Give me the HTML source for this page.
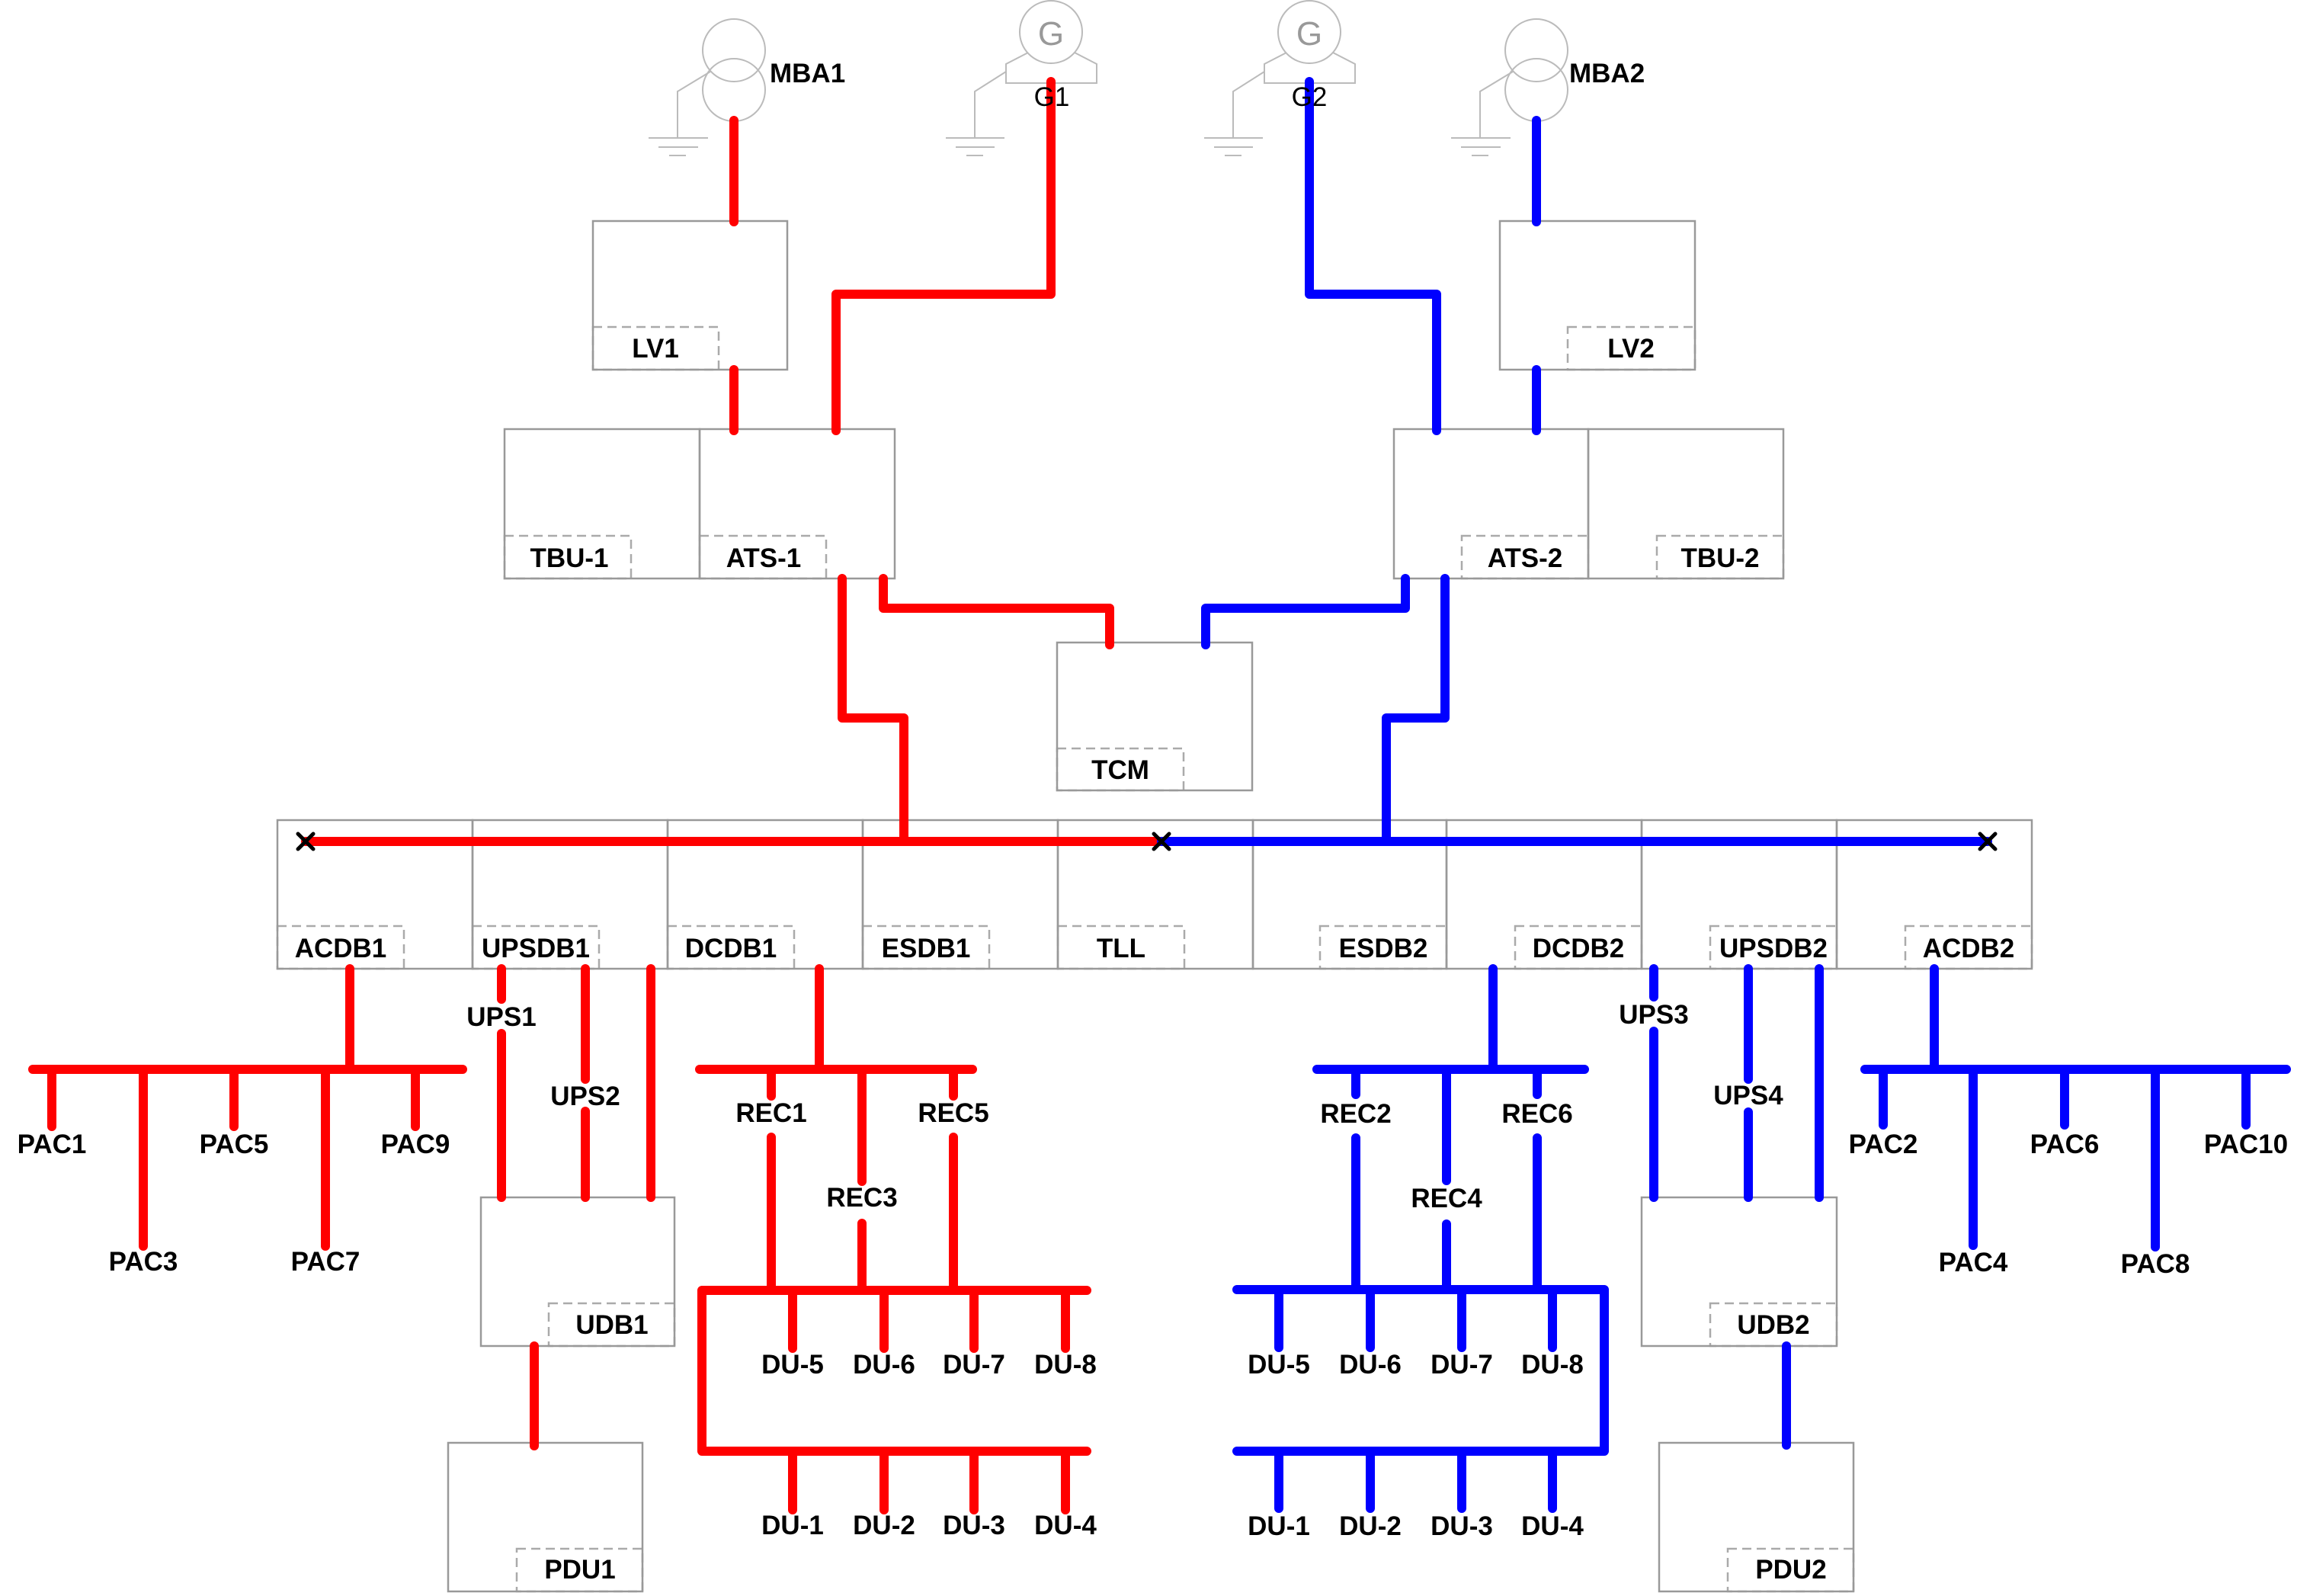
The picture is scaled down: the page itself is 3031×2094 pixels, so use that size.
<!DOCTYPE html>
<html><head><meta charset="utf-8"><style>
html,body{margin:0;padding:0;background:#fff}
svg{display:block}
text{font-family:"Liberation Sans",Arial,sans-serif}
.l{font-weight:bold;font-size:35px;fill:#000;text-anchor:middle}
</style></head><body>
<svg width="3031" height="2094" viewBox="0 0 3031 2094" xmlns="http://www.w3.org/2000/svg">
<rect width="3031" height="2094" fill="#fff"/>
<!-- gray symbols -->
<g fill="none" stroke="#bbb" stroke-width="2">
<circle cx="963" cy="66" r="41"/><circle cx="963" cy="118" r="41"/>
<path d="M932,94 L889,120 V181 M851,181 H929 M864,193 H916 M878,204 H900"/>
<circle cx="2016" cy="66" r="41"/><circle cx="2016" cy="118" r="41"/>
<path d="M1985,94 L1942,120 V181 M1904,181 H1982 M1917,193 H1969 M1931,204 H1953"/>
<circle cx="1379" cy="42" r="41"/>
<path d="M1349,69 L1320,84 V109 H1439 V84 L1410,69"/>
<path d="M1320,94 L1279,120 V181 M1241,181 H1318 M1254,193 H1305 M1268,204 H1290"/>
<circle cx="1718" cy="42" r="41"/>
<path d="M1688,69 L1659,84 V109 H1778 V84 L1749,69"/>
<path d="M1659,94 L1618,120 V181 M1580,181 H1657 M1593,193 H1644 M1607,204 H1629"/>
</g>
<text x="1379" y="59" font-size="44" fill="#999" text-anchor="middle">G</text>
<text x="1718" y="59" font-size="44" fill="#999" text-anchor="middle">G</text>
<!-- dashed labels -->
<g fill="none" stroke="#aaa" stroke-width="2.5" stroke-dasharray="12 7">
<rect x="778" y="429" width="165" height="56"/>
<rect x="2057" y="429" width="167" height="56"/>
<rect x="662" y="703" width="166" height="56"/>
<rect x="918" y="703" width="166" height="56"/>
<rect x="1918" y="703" width="166" height="56"/>
<rect x="2174" y="703" width="166" height="56"/>
<rect x="1387" y="982" width="166" height="55"/>
<rect x="364" y="1215" width="166" height="56"/>
<rect x="620" y="1215" width="166" height="56"/>
<rect x="876" y="1215" width="166" height="56"/>
<rect x="1132" y="1215" width="166" height="56"/>
<rect x="1388" y="1215" width="166" height="56"/>
<rect x="1732" y="1215" width="166" height="56"/>
<rect x="1988" y="1215" width="166" height="56"/>
<rect x="2244" y="1215" width="166" height="56"/>
<rect x="2500" y="1215" width="166" height="56"/>
<rect x="720" y="1710" width="165" height="56"/>
<rect x="2244" y="1710" width="166" height="56"/>
<rect x="678" y="2032" width="165" height="56"/>
<rect x="2267" y="2032" width="165" height="56"/>
</g>
<!-- boxes -->
<g fill="none" stroke="#999" stroke-width="2.5">
<rect x="778" y="290" width="255" height="195"/>
<rect x="1968" y="290" width="256" height="195"/>
<rect x="662" y="563" width="256" height="196"/>
<rect x="918" y="563" width="256" height="196"/>
<rect x="1829" y="563" width="255" height="196"/>
<rect x="2084" y="563" width="256" height="196"/>
<rect x="1387" y="843" width="256" height="194"/>
<rect x="364" y="1076" width="256" height="195"/>
<rect x="620" y="1076" width="256" height="195"/>
<rect x="876" y="1076" width="256" height="195"/>
<rect x="1132" y="1076" width="256" height="195"/>
<rect x="1388" y="1076" width="256" height="195"/>
<rect x="1644" y="1076" width="254" height="195"/>
<rect x="1898" y="1076" width="256" height="195"/>
<rect x="2154" y="1076" width="256" height="195"/>
<rect x="2410" y="1076" width="256" height="195"/>
<rect x="631" y="1571" width="254" height="195"/>
<rect x="2154" y="1571" width="256" height="195"/>
<rect x="588" y="1893" width="255" height="195"/>
<rect x="2177" y="1893" width="255" height="195"/>
</g>
<!-- red -->
<g fill="none" stroke="#ff0000" stroke-width="12" stroke-linecap="round" stroke-linejoin="round">
<path d="M963,158 V291 M963,485 V565"/>
<path d="M1379,107 V386 H1097 V565"/>
<path d="M1105,759 V942 H1186 V1104"/>
<path d="M1159,759 V798 H1456 V846"/>
<path d="M401,1104 H1524"/>
<path d="M459,1271 V1403 M43,1403 H607 M68,1403 V1478 M307,1403 V1478 M545,1403 V1478 M188,1403 V1635 M427,1403 V1635"/>
<path d="M658,1271 V1311 M658,1356 V1571 M768,1271 V1416 M768,1458 V1571 M854,1271 V1571"/>
<path d="M701,1766 V1897"/>
<path d="M1075,1271 V1403 M918,1403 H1276 M1012,1403 V1438 M1012,1492 V1693 M1251,1403 V1438 M1251,1492 V1693 M1131,1403 V1550 M1131,1605 V1693"/>
<path d="M1426,1693 H921 V1904 H1426"/>
<path d="M1040,1693 V1769 M1160,1693 V1769 M1278,1693 V1769 M1398,1693 V1769 M1040,1904 V1981 M1160,1904 V1981 M1278,1904 V1981 M1398,1904 V1981"/>
</g>
<!-- blue -->
<g fill="none" stroke="#0000ff" stroke-width="12" stroke-linecap="round" stroke-linejoin="round">
<path d="M1718,107 V386 H1885 V565"/>
<path d="M2016,158 V291 M2016,485 V565"/>
<path d="M1844,759 V798 H1582 V846"/>
<path d="M1896,759 V942 H1819 V1104"/>
<path d="M1524,1104 H2608"/>
<path d="M1959,1271 V1403 M1728,1403 H2079 M1779,1403 V1436 M1779,1493 V1692 M2017,1403 V1436 M2017,1493 V1692 M1898,1403 V1549 M1898,1606 V1692"/>
<path d="M1623,1692 H2105 V1904 H1623"/>
<path d="M1678,1692 V1768 M1798,1692 V1768 M1918,1692 V1768 M2037,1692 V1768 M1678,1904 V1979 M1798,1904 V1979 M1918,1904 V1979 M2037,1904 V1979"/>
<path d="M2170,1271 V1308 M2170,1353 V1571 M2294,1271 V1416 M2294,1459 V1571 M2387,1271 V1571"/>
<path d="M2344,1766 V1896"/>
<path d="M2538,1271 V1403 M2447,1403 H3000 M2471,1403 V1476 M2709,1403 V1476 M2947,1403 V1476 M2589,1403 V1634 M2828,1403 V1636"/>
</g>
<!-- X marks -->
<g stroke="#000" stroke-width="5" stroke-linecap="round">
<path d="M391,1094 L411,1114 M411,1094 L391,1114"/>
<path d="M1514,1094 L1534,1114 M1534,1094 L1514,1114"/>
<path d="M2598,1094 L2618,1114 M2618,1094 L2598,1114"/>
</g>
<!-- text -->
<text x="1010" y="108" class="l" text-anchor="start" style="text-anchor:start">MBA1</text>
<text x="2059" y="108" class="l" style="text-anchor:start">MBA2</text>
<text x="1380" y="139" font-size="35" text-anchor="middle">G1</text>
<text x="1718" y="139" font-size="35" text-anchor="middle">G2</text>
<text x="860" y="469" class="l">LV1</text>
<text x="2140" y="469" class="l">LV2</text>
<text x="747" y="744" class="l">TBU-1</text>
<text x="1002" y="744" class="l">ATS-1</text>
<text x="2001" y="744" class="l">ATS-2</text>
<text x="2257" y="744" class="l">TBU-2</text>
<text x="1470" y="1022" class="l">TCM</text>
<text x="447" y="1256" class="l">ACDB1</text>
<text x="703" y="1256" class="l">UPSDB1</text>
<text x="959" y="1256" class="l">DCDB1</text>
<text x="1215" y="1256" class="l">ESDB1</text>
<text x="1471" y="1256" class="l">TLL</text>
<text x="1815" y="1256" class="l">ESDB2</text>
<text x="2071" y="1256" class="l">DCDB2</text>
<text x="2327" y="1256" class="l">UPSDB2</text>
<text x="2583" y="1256" class="l">ACDB2</text>
<text x="68" y="1513" class="l">PAC1</text>
<text x="307" y="1513" class="l">PAC5</text>
<text x="545" y="1513" class="l">PAC9</text>
<text x="188" y="1667" class="l">PAC3</text>
<text x="427" y="1667" class="l">PAC7</text>
<text x="658" y="1346" class="l">UPS1</text>
<text x="768" y="1450" class="l">UPS2</text>
<text x="1012" y="1472" class="l">REC1</text>
<text x="1251" y="1472" class="l">REC5</text>
<text x="1131" y="1583" class="l">REC3</text>
<text x="1040" y="1802" class="l">DU-5</text>
<text x="1160" y="1802" class="l">DU-6</text>
<text x="1278" y="1802" class="l">DU-7</text>
<text x="1398" y="1802" class="l">DU-8</text>
<text x="1040" y="2013" class="l">DU-1</text>
<text x="1160" y="2013" class="l">DU-2</text>
<text x="1278" y="2013" class="l">DU-3</text>
<text x="1398" y="2013" class="l">DU-4</text>
<text x="803" y="1750" class="l">UDB1</text>
<text x="761" y="2071" class="l">PDU1</text>
<text x="1779" y="1473" class="l">REC2</text>
<text x="2017" y="1473" class="l">REC6</text>
<text x="1898" y="1584" class="l">REC4</text>
<text x="1678" y="1802" class="l">DU-5</text>
<text x="1798" y="1802" class="l">DU-6</text>
<text x="1918" y="1802" class="l">DU-7</text>
<text x="2037" y="1802" class="l">DU-8</text>
<text x="1678" y="2014" class="l">DU-1</text>
<text x="1798" y="2014" class="l">DU-2</text>
<text x="1918" y="2014" class="l">DU-3</text>
<text x="2037" y="2014" class="l">DU-4</text>
<text x="2170" y="1343" class="l">UPS3</text>
<text x="2294" y="1449" class="l">UPS4</text>
<text x="2327" y="1750" class="l">UDB2</text>
<text x="2350" y="2071" class="l">PDU2</text>
<text x="2471" y="1513" class="l">PAC2</text>
<text x="2709" y="1513" class="l">PAC6</text>
<text x="2947" y="1513" class="l">PAC10</text>
<text x="2589" y="1668" class="l">PAC4</text>
<text x="2828" y="1670" class="l">PAC8</text>
</svg>
</body></html>
